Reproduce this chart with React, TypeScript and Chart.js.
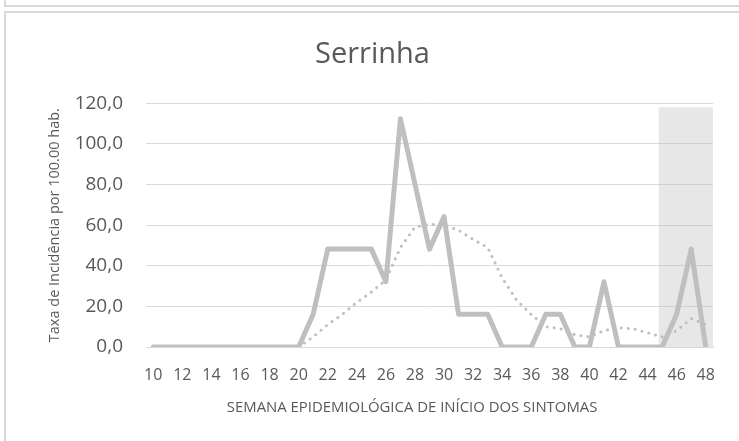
import React, { useEffect, useRef } from "react";
import { Chart, registerables } from "chart.js";

Chart.register(...registerables);

const weeks = [10, 11, 12, 13, 14, 15, 16, 17, 18, 19, 20, 21, 22, 23, 24, 25, 26, 27, 28, 29, 30, 31, 32, 33, 34, 35, 36, 37, 38, 39, 40, 41, 42, 43, 44, 45, 46, 47, 48];

const incidence = [0, 0, 0, 0, 0, 0, 0, 0, 0, 0, 0, 16.1, 48.2, 48.2, 48.2, 48.2, 32.1, 112.4, 80.3, 48.2, 64.2, 16.1, 16.1, 16.1, 0, 0, 0, 16.1, 16.1, 0, 0, 32.1, 0, 0, 0, 0, 16.1, 48.2, 0];

const movingAverage = [null, null, null, null, null, null, null, null, null, null, 0, 5, 11, 16, 22, 27, 33, 49, 59, 60.5, 60, 57.5, 53, 49, 34, 23, 16, 10, 9, 6, 5, 8, 9.5, 9, 7, 5, 8, 14, 11];

// shaded period, in week units (start/end of the grey band) and its top value
const shadedWeekRange = [44.75, 48.5];
const shadedTop = 118;

const yTicks = [0, 20, 40, 60, 80, 100, 120];

const TITLE = "Serrinha";
const X_TITLE = "SEMANA EPIDEMIOLÓGICA DE INÍCIO DOS SINTOMAS";
const Y_TITLE = "Taxa de Incidência por 100.00 hab.";

const FONT = "'Open Sans', 'Noto Sans', sans-serif";
const TEXT = "#595959";
const LINE = "#bfbfbf";
const GRID = "#d9d9d9";

export default function App() {
  const ref = useRef<HTMLCanvasElement | null>(null);

  useEffect(() => {
    if (!ref.current) return;
    const first = weeks[0] - 0.5;
    const last = weeks[weeks.length - 1] + 0.5;
    const chart = new Chart(ref.current, {
      type: "line",
      data: {
        labels: weeks.map(String),
        datasets: [
          {
            label: "Taxa de incidência",
            data: incidence,
            borderColor: LINE,
            backgroundColor: LINE,
            borderWidth: 5,
            pointRadius: 0,
            tension: 0,
            borderJoinStyle: "round",
            borderCapStyle: "round",
            order: 1,
          } as any,
          {
            label: "Média móvel",
            data: movingAverage,
            borderColor: LINE,
            backgroundColor: LINE,
            borderWidth: 3,
            borderDash: [0.01, 7],
            borderCapStyle: "round",
            pointRadius: 0,
            tension: 0,
            order: 2,
          } as any,
          {
            label: "Período",
            xAxisID: "xs",
            data: shadedWeekRange.map((w) => ({ x: w, y: shadedTop })),
            borderWidth: 0,
            borderColor: "rgba(0,0,0,0)",
            backgroundColor: "rgba(191,191,191,0.38)",
            fill: "origin",
            pointRadius: 0,
            tension: 0,
            order: 3,
          } as any,
        ],
      },
      options: {
        responsive: false,
        animation: false,
        devicePixelRatio: 1,
        layout: { padding: 0 },
        plugins: {
          legend: { display: false },
          tooltip: { enabled: false },
          title: {
            display: true,
            text: TITLE,
            color: TEXT,
            font: { family: FONT, size: 29, weight: "normal", lineHeight: 1.2 },
            padding: { top: 37, bottom: 31.5 },
          },
        },
        scales: {
          x: {
            type: "category",
            offset: true,
            grid: { display: false, drawTicks: false },
            border: { display: true, color: GRID, width: 1 },
            ticks: {
              color: TEXT,
              font: { family: FONT, size: 16 },
              padding: 19,
              autoSkip: false,
              maxRotation: 0,
              callback: (_v: any, i: number) => (i % 2 === 0 ? String(weeks[i]) : ""),
            },
            title: {
              display: true,
              text: X_TITLE + "         ",
              color: TEXT,
              font: { family: FONT, size: 14.9, lineHeight: 1.2 },
              padding: { top: 0, bottom: 24 },
            },
            afterFit: (s: any) => {
              s.height = 94;
            },
          },
          xs: {
            type: "linear",
            display: false,
            min: first,
            max: last,
            offset: false,
          },
          y: {
            min: 0,
            max: 120,
            grid: { color: GRID, lineWidth: 1, drawTicks: false },
            border: { display: false },
            afterBuildTicks: (s: any) => {
              s.ticks = yTicks.map((v) => ({ value: v }));
            },
            ticks: {
              color: TEXT,
              font: { family: FONT, size: 19 },
              padding: 23,
              callback: (v: any) => Number(v).toFixed(1).replace(".", ","),
            },
            title: {
              display: true,
              text: Y_TITLE,
              color: TEXT,
              font: { family: FONT, size: 14.5, lineHeight: 1.2 },
              padding: { top: 46, bottom: 0 },
            },
            afterFit: (s: any) => {
              s.width = 146;
            },
          },
          yRight: {
            position: "right",
            display: true,
            grid: { display: false, drawTicks: false },
            border: { display: false },
            ticks: { display: false },
            afterFit: (s: any) => {
              s.width = 32;
            },
          },
        },
      } as any,
    });
    return () => chart.destroy();
  }, []);

  return (
    <div style={{ position: "fixed", left: 0, top: 0, width: 739, height: 441, overflow: "hidden", background: "#ffffff" }}>
      <div style={{ position: "absolute", left: 4, top: -20, width: 800, height: 27, boxSizing: "border-box", border: `2px solid ${GRID}` }} />
      <div style={{ position: "absolute", left: 4, top: 11, width: 800, height: 500, boxSizing: "border-box", border: `2px solid ${GRID}` }} />
      <canvas ref={ref} width={745} height={441} style={{ position: "absolute", left: 0, top: 0, width: 745, height: 441, display: "block" }} />
    </div>
  );
}
